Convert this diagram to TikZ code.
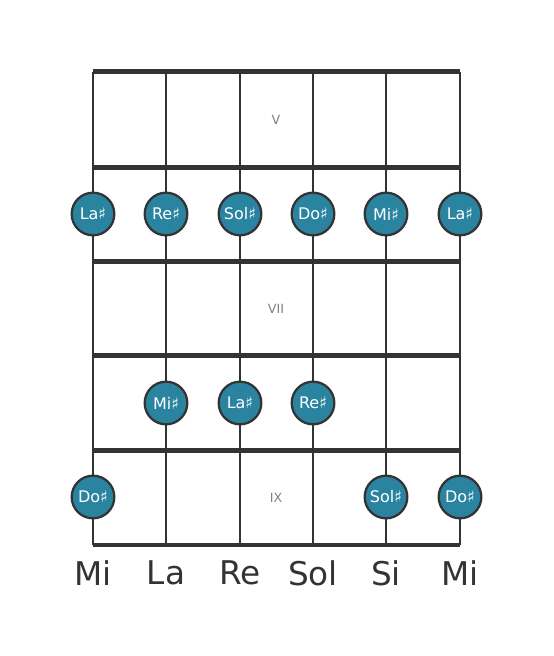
\documentclass[tikz,border=0pt]{standalone}
\usepackage{fontspec}
\setmainfont{DejaVu Sans}
\definecolor{dot}{HTML}{2A84A0}
\definecolor{ln}{HTML}{333333}
\tikzset{
  fretline/.style={line width=3.75pt, draw=ln},
  stringline/.style={line width=2.2pt, draw=ln},
  note/.style={circle, fill=dot, draw=ln, line width=1.7pt, minimum size=32pt, inner sep=0pt, text=white, font=\fontsize{12}{14}\selectfont},
  roman/.style={text=gray, font=\fontsize{9.5}{11}\selectfont},
  sname/.style={text=ln, font=\fontsize{24.5}{28}\selectfont}
}
\begin{document}
\begin{tikzpicture}[x=0.75pt,y=-0.75pt]
\useasboundingbox (0,0) rectangle (553,656);
\foreach \x/\n in {93/s1,166/s2,240/s3,313/s4,386/s5,460/s6}{
  \coordinate (\n t) at (\x,72);
  \coordinate (\n b) at (\x,545);
  \draw[stringline] (\n t) -- (\n b);
}
\foreach \y/\n in {72/f0,167/f1,261/f2,355/f3,450/f4}{
  \coordinate (\n l) at (93,\y);
  \coordinate (\n r) at (460,\y);
  \draw[fretline] (\n l) -- (\n r);
}
\coordinate (bl) at (93,545);
\coordinate (br) at (460,545);
\draw[line width=3pt, draw=ln] (bl) -- (br);
\node[roman] (r5) at (276,120) {V};
\node[roman] (r7) at (276,309) {VII};
\node[roman] (r9) at (276,498) {IX};
\node[note] (n1) at (93,214) {La♯};
\node[note] (n2) at (166,214) {Re♯};
\node[note] (n3) at (240,214) {Sol♯};
\node[note] (n4) at (313,214) {Do♯};
\node[note] (n5) at (386,214) {Mi♯};
\node[note] (n6) at (460,214) {La♯};
\node[note] (n7) at (166,403) {Mi♯};
\node[note] (n8) at (240,403) {La♯};
\node[note] (n9) at (313,403) {Re♯};
\node[note] (n10) at (93,497) {Do♯};
\node[note] (n11) at (386,497) {Sol♯};
\node[note] (n12) at (460,497) {Do♯};
\foreach \x/\t/\n in {93/Mi/l1,166/La/l2,240/Re/l3,313/Sol/l4,386/Si/l5,460/Mi/l6}{
  \node[sname] (\n) at (\x,573) {\t};
}
\end{tikzpicture}
\end{document}
